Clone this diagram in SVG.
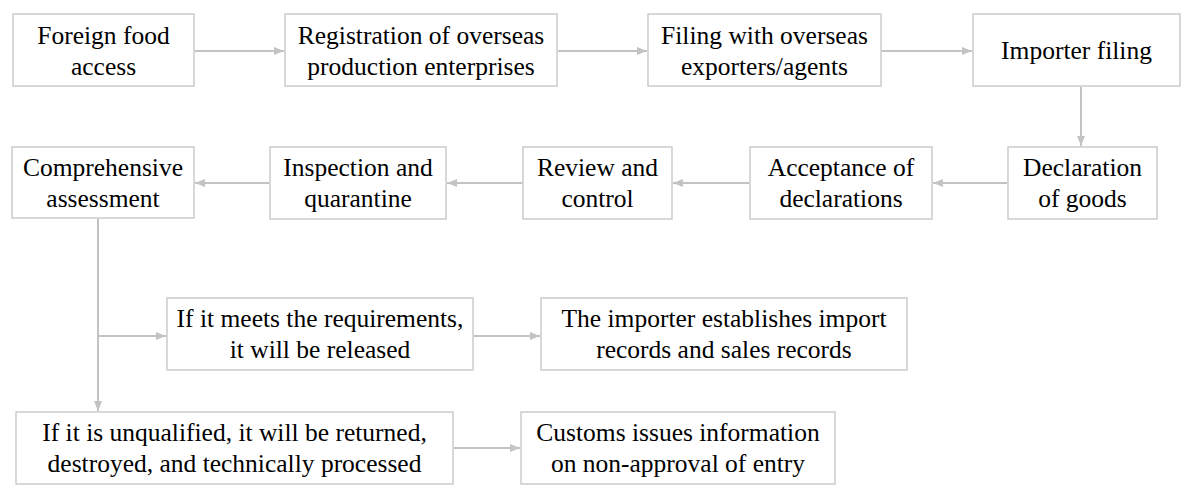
<svg xmlns="http://www.w3.org/2000/svg" width="1191" height="501" viewBox="0 0 1191 501">
<style>
.box{fill:#fff;stroke:#c3c3c3;stroke-width:1.3}
.c{fill:none;stroke:#c3c3c3;stroke-width:2}
svg text, text.t{font-family:'Liberation Serif','Times New Roman',serif !important;font-size:25.5px;text-anchor:middle;fill:#000}
</style>
<defs>
<marker id="ah" viewBox="0 0 10 10" refX="10" refY="5" markerWidth="5" markerHeight="5" orient="auto" markerUnits="strokeWidth">
<path d="M0,1 L10,5 L0,9 z" fill="#c3c3c3"/>
</marker>
</defs>
<rect width="1191" height="501" fill="#fff"/>
<g id="connectors">
<line class="c" x1="195" y1="51" x2="284" y2="51" marker-end="url(#ah)"/>
<line class="c" x1="558" y1="51" x2="647" y2="51" marker-end="url(#ah)"/>
<line class="c" x1="882" y1="51" x2="972" y2="51" marker-end="url(#ah)"/>
<line class="c" x1="1081" y1="87" x2="1081" y2="146" marker-end="url(#ah)"/>
<line class="c" x1="1007" y1="183" x2="933" y2="183" marker-end="url(#ah)"/>
<line class="c" x1="749" y1="183" x2="673" y2="183" marker-end="url(#ah)"/>
<line class="c" x1="522" y1="183" x2="447" y2="183" marker-end="url(#ah)"/>
<line class="c" x1="269" y1="183" x2="195" y2="183" marker-end="url(#ah)"/>
<line class="c" x1="98" y1="219" x2="98" y2="411" marker-end="url(#ah)"/>
<line class="c" x1="98" y1="336" x2="166" y2="336" marker-end="url(#ah)"/>
<line class="c" x1="474" y1="336" x2="540" y2="336" marker-end="url(#ah)"/>
<line class="c" x1="454" y1="448" x2="520" y2="448" marker-end="url(#ah)"/>
</g>
<g id="n1"><rect class="box" x="13" y="14" width="181" height="72"/><text class="t" style="font-family:'Liberation Serif',serif !important" x="103.5" y="44">Foreign food</text><text class="t" style="font-family:'Liberation Serif',serif !important" x="103.5" y="75">access</text></g>
<g id="n2"><rect class="box" x="285" y="14" width="272" height="72"/><text class="t" style="font-family:'Liberation Serif',serif !important" x="421" y="44">Registration of overseas</text><text class="t" style="font-family:'Liberation Serif',serif !important" x="421" y="75">production enterprises</text></g>
<g id="n3"><rect class="box" x="648" y="14" width="233" height="72"/><text class="t" style="font-family:'Liberation Serif',serif !important" x="764.5" y="44">Filing with overseas</text><text class="t" style="font-family:'Liberation Serif',serif !important" x="764.5" y="75">exporters/agents</text></g>
<g id="n4"><rect class="box" x="973" y="14" width="207" height="72"/><text class="t" style="font-family:'Liberation Serif',serif !important" x="1076.5" y="59">Importer filing</text></g>
<g id="n5"><rect class="box" x="1008" y="147" width="149" height="72"/><text class="t" style="font-family:'Liberation Serif',serif !important" x="1082.5" y="176">Declaration</text><text class="t" style="font-family:'Liberation Serif',serif !important" x="1082.5" y="207">of goods</text></g>
<g id="n6"><rect class="box" x="750" y="147" width="182" height="72"/><text class="t" style="font-family:'Liberation Serif',serif !important" x="841" y="176">Acceptance of</text><text class="t" style="font-family:'Liberation Serif',serif !important" x="841" y="207">declarations</text></g>
<g id="n7"><rect class="box" x="523" y="147" width="149" height="72"/><text class="t" style="font-family:'Liberation Serif',serif !important" x="597.5" y="176">Review and</text><text class="t" style="font-family:'Liberation Serif',serif !important" x="597.5" y="207">control</text></g>
<g id="n8"><rect class="box" x="270" y="147" width="176" height="72"/><text class="t" style="font-family:'Liberation Serif',serif !important" x="358" y="176">Inspection and</text><text class="t" style="font-family:'Liberation Serif',serif !important" x="358" y="207">quarantine</text></g>
<g id="n9"><rect class="box" x="12" y="147" width="182" height="71"/><text class="t" style="font-family:'Liberation Serif',serif !important" x="103" y="176">Comprehensive</text><text class="t" style="font-family:'Liberation Serif',serif !important" x="103" y="207">assessment</text></g>
<g id="n10"><rect class="box" x="167" y="298" width="306" height="72"/><text class="t" style="font-family:'Liberation Serif',serif !important" x="320" y="327">If it meets the requirements,</text><text class="t" style="font-family:'Liberation Serif',serif !important" x="320" y="358">it will be released</text></g>
<g id="n11"><rect class="box" x="541" y="298" width="366" height="72"/><text class="t" style="font-family:'Liberation Serif',serif !important" x="724" y="327">The importer establishes import</text><text class="t" style="font-family:'Liberation Serif',serif !important" x="724" y="358">records and sales records</text></g>
<g id="n12"><rect class="box" x="16" y="412" width="437" height="72"/><text class="t" style="font-family:'Liberation Serif',serif !important" x="234.5" y="441">If it is unqualified, it will be returned,</text><text class="t" style="font-family:'Liberation Serif',serif !important" x="234.5" y="472">destroyed, and technically processed</text></g>
<g id="n13"><rect class="box" x="521" y="412" width="314" height="72"/><text class="t" style="font-family:'Liberation Serif',serif !important" x="678" y="441">Customs issues information</text><text class="t" style="font-family:'Liberation Serif',serif !important" x="678" y="472">on non-approval of entry</text></g>
</svg>
